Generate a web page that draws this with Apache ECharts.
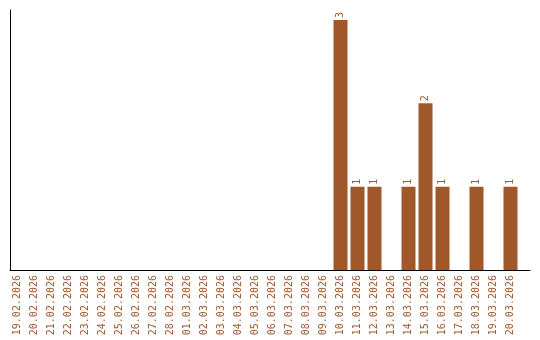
<!DOCTYPE html>
<html><head><meta charset="utf-8">
<script src="https://cdn.jsdelivr.net/npm/echarts@6/dist/echarts.min.js"></script>
<style>html,body{margin:0;padding:0;background:#fff}#c{width:540px;height:340px}</style>
</head><body><div id="c"></div>
<script>
const categories = ['19.02.2026','20.02.2026','21.02.2026','22.02.2026','23.02.2026','24.02.2026','25.02.2026','26.02.2026','27.02.2026','28.02.2026','01.03.2026','02.03.2026','03.03.2026','04.03.2026','05.03.2026','06.03.2026','07.03.2026','08.03.2026','09.03.2026','10.03.2026','11.03.2026','12.03.2026','13.03.2026','14.03.2026','15.03.2026','16.03.2026','17.03.2026','18.03.2026','19.03.2026','20.03.2026'];
const counts = [0,0,0,0,0,0,0,0,0,0,0,0,0,0,0,0,0,0,0,3,1,1,0,1,2,1,0,1,0,1];
const yMax = 3;
const brown = '#a0572a';
const chart = echarts.init(document.getElementById('c'));
chart.setOption({
  animation: false,
  grid: [
    {left: 9, width: 510, top: 20, bottom: 70},
    {left: 10, right: 10, top: 10, bottom: 70}
  ],
  xAxis: [
    {type: 'category', gridIndex: 0, data: categories,
     axisLine: {show: false}, axisTick: {show: false},
     axisLabel: {rotate: 90, interval: 0, margin: 5, color: brown,
       fontFamily: 'DejaVu Sans Mono', fontSize: 10}},
    {type: 'value', gridIndex: 1, min: 0, max: 1, show: true,
     axisLine: {show: true, lineStyle: {color: '#000', width: 1}},
     axisTick: {show: false}, axisLabel: {show: false}, splitLine: {show: false}}
  ],
  yAxis: [
    {type: 'value', gridIndex: 0, min: 0, max: yMax, show: false},
    {type: 'value', gridIndex: 1, min: 0, max: 1,
     axisLine: {show: true, lineStyle: {color: '#000', width: 1}},
     axisTick: {show: false}, axisLabel: {show: false}, splitLine: {show: false}}
  ],
  series: [{
    type: 'bar', xAxisIndex: 0, yAxisIndex: 0, data: counts.map(v => v === 0 ? null : v),
    barWidth: 14, itemStyle: {color: brown},
    label: {show: true, position: 'top', rotate: 90, align: 'left', verticalAlign: 'middle',
      distance: 2, color: brown, fontFamily: 'DejaVu Sans Mono', fontSize: 10}
  }]
});
</script></body></html>
